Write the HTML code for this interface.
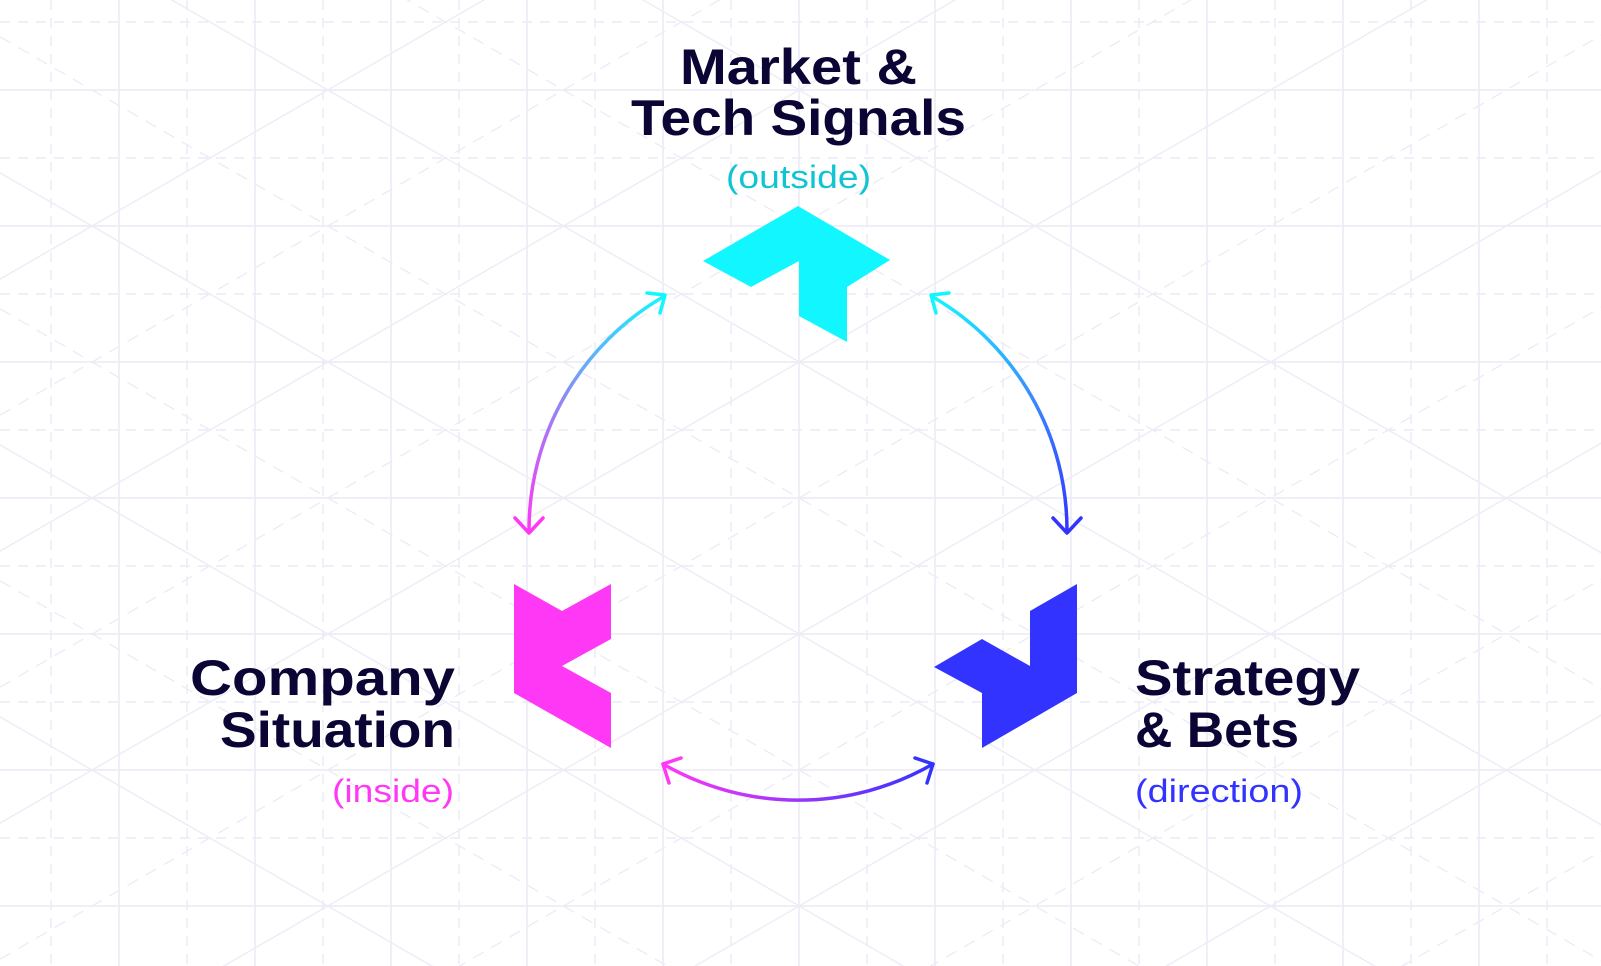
<!DOCTYPE html>
<html><head><meta charset="utf-8"><style>
html,body{margin:0;padding:0;background:#fff;width:1601px;height:966px;overflow:hidden;}
svg{display:block}
</style></head><body>
<svg width="1601" height="966" viewBox="0 0 1601 966" xmlns="http://www.w3.org/2000/svg">
<defs>
<linearGradient id="gl" gradientUnits="userSpaceOnUse" x1="663" y1="297" x2="529" y2="531"><stop offset="0" stop-color="#12f7ff"/><stop offset="0.5" stop-color="#8a8cf5"/><stop offset="1" stop-color="#ff38f5"/></linearGradient>
<linearGradient id="gr" gradientUnits="userSpaceOnUse" x1="933" y1="297" x2="1067" y2="531"><stop offset="0" stop-color="#12f7ff"/><stop offset="0.5" stop-color="#3a8cff"/><stop offset="1" stop-color="#3333ff"/></linearGradient>
<linearGradient id="gb" gradientUnits="userSpaceOnUse" x1="663" y1="764" x2="933" y2="764"><stop offset="0" stop-color="#ff38f5"/><stop offset="1" stop-color="#3333ff"/></linearGradient>
</defs>
<g stroke="#ebeaf6" stroke-width="1.5" fill="none">
<line x1="119" y1="0" x2="119" y2="966"/><line x1="255" y1="0" x2="255" y2="966"/><line x1="391" y1="0" x2="391" y2="966"/><line x1="527" y1="0" x2="527" y2="966"/><line x1="663" y1="0" x2="663" y2="966"/><line x1="799" y1="0" x2="799" y2="966"/><line x1="935" y1="0" x2="935" y2="966"/><line x1="1071" y1="0" x2="1071" y2="966"/><line x1="1207" y1="0" x2="1207" y2="966"/><line x1="1343" y1="0" x2="1343" y2="966"/><line x1="1479" y1="0" x2="1479" y2="966"/>
<line x1="0" y1="90" x2="1601" y2="90"/><line x1="0" y1="226" x2="1601" y2="226"/><line x1="0" y1="362" x2="1601" y2="362"/><line x1="0" y1="498" x2="1601" y2="498"/><line x1="0" y1="634" x2="1601" y2="634"/><line x1="0" y1="770" x2="1601" y2="770"/><line x1="0" y1="906" x2="1601" y2="906"/>
</g>
<g stroke="#ecebf6" stroke-width="1.5" fill="none" stroke-dasharray="10 8">
<line x1="51" y1="0" x2="51" y2="966"/><line x1="187" y1="0" x2="187" y2="966"/><line x1="323" y1="0" x2="323" y2="966"/><line x1="459" y1="0" x2="459" y2="966"/><line x1="595" y1="0" x2="595" y2="966"/><line x1="731" y1="0" x2="731" y2="966"/><line x1="867" y1="0" x2="867" y2="966"/><line x1="1003" y1="0" x2="1003" y2="966"/><line x1="1139" y1="0" x2="1139" y2="966"/><line x1="1275" y1="0" x2="1275" y2="966"/><line x1="1411" y1="0" x2="1411" y2="966"/><line x1="1547" y1="0" x2="1547" y2="966"/>
<line x1="0" y1="22" x2="1601" y2="22"/><line x1="0" y1="158" x2="1601" y2="158"/><line x1="0" y1="294" x2="1601" y2="294"/><line x1="0" y1="430" x2="1601" y2="430"/><line x1="0" y1="566" x2="1601" y2="566"/><line x1="0" y1="702" x2="1601" y2="702"/><line x1="0" y1="838" x2="1601" y2="838"/>
</g>
<g stroke="#eeedf7" stroke-width="1.5" fill="none">
<line x1="-400" y1="-602" x2="2000" y2="783"/>
<line x1="-400" y1="-330" x2="2000" y2="1055"/>
<line x1="-400" y1="-58" x2="2000" y2="1327"/>
<line x1="-400" y1="214" x2="2000" y2="1599"/>
<line x1="-400" y1="486" x2="2000" y2="1871"/>
<line x1="-400" y1="510" x2="2000" y2="-875"/>
<line x1="-400" y1="782" x2="2000" y2="-603"/>
<line x1="-400" y1="1054" x2="2000" y2="-331"/>
<line x1="-400" y1="1326" x2="2000" y2="-59"/>
<line x1="-400" y1="1598" x2="2000" y2="213"/>
<line x1="-400" y1="1870" x2="2000" y2="485"/>
<line x1="-400" y1="2142" x2="2000" y2="757"/>
</g>
<g stroke="#eceaf6" stroke-width="1.3" fill="none" stroke-dasharray="12 9">
<line x1="-400" y1="-466" x2="2000" y2="919"/>
<line x1="-400" y1="-194" x2="2000" y2="1191"/>
<line x1="-400" y1="78" x2="2000" y2="1463"/>
<line x1="-400" y1="350" x2="2000" y2="1735"/>
<line x1="-400" y1="646" x2="2000" y2="-739"/>
<line x1="-400" y1="918" x2="2000" y2="-467"/>
<line x1="-400" y1="1190" x2="2000" y2="-195"/>
<line x1="-400" y1="1462" x2="2000" y2="77"/>
<line x1="-400" y1="1734" x2="2000" y2="349"/>
<line x1="-400" y1="2006" x2="2000" y2="621"/>
</g>

<polygon fill="#12f7ff" points="798,206 890,260 847,287 847,342 799,316 799,261 751,287 703,261"/>
<polygon fill="#ff38f5" points="514,584 562,611 611,584 611,639 562,666 611,693 611,748 514,693"/>
<polygon fill="#3333ff" points="1077,584 1030,611 1030,666 982,639 934,667 982,693 982,748 1077,693"/>

<g fill="none" stroke-width="3.5" stroke-linecap="round" stroke-linejoin="round">
<path d="M663,297 A270,270 0 0 0 529,531" stroke="url(#gl)"/>
<path d="M647,293 L665,295 L660,313" stroke="#12f7ff"/>
<path d="M515,518 L529,533 L543,518" stroke="#ff38f5"/>
<path d="M933,297 A270,270 0 0 1 1067,531" stroke="url(#gr)"/>
<path d="M949,293 L931,295 L936,313" stroke="#12f7ff"/>
<path d="M1053,518 L1067,533 L1081,518" stroke="#3333ff"/>
<path d="M663,764 A270,270 0 0 0 933,764" stroke="url(#gb)"/>
<path d="M681,758 L663,764 L669,783" stroke="#ff38f5"/>
<path d="M915,758 L933,764 L927,783" stroke="#3333ff"/>
</g>

<g font-family="Liberation Sans, sans-serif" font-weight="bold" fill="#0a0534" font-size="50" lengthAdjust="spacingAndGlyphs">
<text x="680" y="84" textLength="237" lengthAdjust="spacingAndGlyphs">Market &amp;</text>
<text x="631" y="135" textLength="335" lengthAdjust="spacingAndGlyphs">Tech Signals</text>
<text x="190" y="695" textLength="265" lengthAdjust="spacingAndGlyphs">Company</text>
<text x="220" y="747" textLength="235" lengthAdjust="spacingAndGlyphs">Situation</text>
<text x="1135" y="695" textLength="225" lengthAdjust="spacingAndGlyphs">Strategy</text>
<text x="1135" y="747" textLength="164" lengthAdjust="spacingAndGlyphs">&amp; Bets</text>
</g>
<g font-family="Liberation Sans, sans-serif" font-size="32" font-weight="500">
<text x="726" y="188" textLength="145" lengthAdjust="spacingAndGlyphs" fill="#10c4d2">(outside)</text>
<text x="332" y="802" textLength="122" lengthAdjust="spacingAndGlyphs" fill="#ff38f5">(inside)</text>
<text x="1135" y="802" textLength="168" lengthAdjust="spacingAndGlyphs" fill="#3333ff">(direction)</text>
</g>
</svg>
</body></html>
